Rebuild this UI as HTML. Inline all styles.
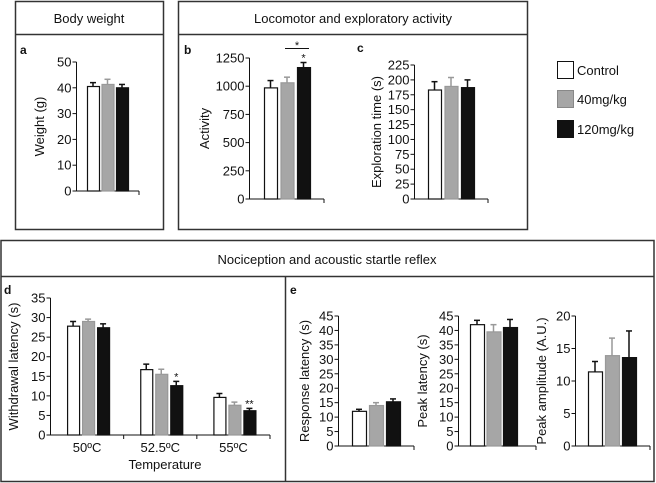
<!DOCTYPE html>
<html><head><meta charset="utf-8"><style>
html,body{margin:0;padding:0;background:#fff;}
svg{display:block;font-family:"Liberation Sans",Arial,sans-serif;}
</style></head><body>
<svg id="fig" width="656" height="483" viewBox="0 0 656 483" xmlns="http://www.w3.org/2000/svg">
<g fill="none" stroke="#333" stroke-width="1.5">
<rect x="15.5" y="1.5" width="148" height="228"/>
<line x1="15.5" y1="34.5" x2="163.5" y2="34.5"/>
<rect x="178.5" y="1.5" width="349" height="228"/>
<line x1="178.5" y1="34.5" x2="527.5" y2="34.5"/>
<rect x="1" y="240.5" width="653" height="241"/>
<line x1="1" y1="276.5" x2="654" y2="276.5"/>
<line x1="285.5" y1="276.5" x2="285.5" y2="481.5"/>
</g>
<g font-size="13" fill="#111">
<text x="89" y="23" text-anchor="middle">Body weight</text>
<text x="353" y="23" text-anchor="middle">Locomotor and exploratory activity</text>
<text x="327" y="264" text-anchor="middle">Nociception and acoustic startle reflex</text>
</g>
<g font-size="12" font-weight="bold" fill="#111">
<text x="20" y="54">a</text>
<text x="184" y="54">b</text>
<text x="357" y="52">c</text>
<text x="4" y="294">d</text>
<text x="290" y="294">e</text>
</g>
<g font-size="13" fill="#111">
<rect x="557.5" y="61.5" width="16" height="17" fill="#fff" stroke="#111"/>
<text x="577" y="75">Control</text>
<rect x="557.5" y="90.5" width="16" height="17" fill="#a6a6a6" stroke="#888"/>
<text x="577" y="104">40mg/kg</text>
<rect x="557.5" y="120.5" width="16" height="17" fill="#111" stroke="#111"/>
<text x="577" y="134">120mg/kg</text>
</g>
<g id="charts"></g>
</svg>
<script>
// Data
const groups = ["Control", "40mg/kg", "120mg/kg"];
const weightValues = [40.5, 41.3, 40.0];
const weightErrors = [1.5, 2.0, 1.3];
const weightTicks = [0, 10, 20, 30, 40, 50];
const activityValues = [985, 1030, 1165];
const activityErrors = [65, 50, 45];
const activityTicks = [0, 250, 500, 750, 1000, 1250];
const explorationValues = [183, 189, 187];
const explorationErrors = [14, 15, 13];
const explorationTicks = [0, 25, 50, 75, 100, 125, 150, 175, 200, 225];
const temperatureCategories = ["50ºC", "52.5ºC", "55ºC"];
const withdrawalControl = [27.8, 16.7, 9.6];
const withdrawal40 = [29.0, 15.5, 7.6];
const withdrawal120 = [27.4, 12.6, 6.2];
const withdrawalErrControl = [1.2, 1.4, 1.0];
const withdrawalErr40 = [0.6, 1.3, 0.8];
const withdrawalErr120 = [1.0, 1.1, 0.6];
const withdrawalStars = ["", "*", "**"];
const withdrawalTicks = [0, 5, 10, 15, 20, 25, 30, 35];
const responseValues = [12.0, 14.0, 15.3];
const responseErrors = [0.7, 1.0, 1.0];
const peakLatValues = [42.0, 39.5, 41.0];
const peakLatErrors = [1.5, 2.5, 2.8];
const latencyTicks = [0, 5, 10, 15, 20, 25, 30, 35, 40, 45];
const amplitudeValues = [11.4, 13.9, 13.6];
const amplitudeErrors = [1.6, 2.7, 4.1];
const amplitudeTicks = [0, 5, 10, 15, 20];

const NS = "http://www.w3.org/2000/svg";
const root = document.getElementById("charts");
const fills = ["#fff", "#a6a6a6", "#111"];
const strokes = ["#111", "#999", "#111"];
function mk(tag, attrs, parent) {
  const e = document.createElementNS(NS, tag);
  for (const k in attrs) e.setAttribute(k, attrs[k]);
  parent.appendChild(e);
  return e;
}
function axes(g, ax, ticks, yLabel, labelX) {
  const ys = v => ax.y0 - (v - ticks[0]) / (ticks[ticks.length - 1] - ticks[0]) * (ax.y0 - ax.y1);
  const yl = mk("line", {x1: ax.x, y1: ax.y0, x2: ax.x, y2: ax.y1, stroke: "#111"}, g);
  
  
  const xl = mk("line", {x1: ax.x, y1: ax.y0, x2: ax.xEnd, y2: ax.y0, stroke: "#111"}, g);
  
  
  ticks.forEach(t => {
    const y = ys(t);
    mk("line", {x1: ax.x - 4, y1: y, x2: ax.x, y2: y, stroke: "#111"}, g);
    const tx = mk("text", {x: ax.x - 5, y: y + 4.5, "text-anchor": "end", "font-size": 13, fill: "#111"}, g);
    
    
    tx.textContent = t;
  });
  const yt = mk("text", {x: labelX, y: (ax.y0 + ax.y1) / 2, "text-anchor": "middle", "font-size": 13, fill: "#111",
    transform: "rotate(-90 " + labelX + " " + ((ax.y0 + ax.y1) / 2) + ")"}, g);
  
  
  yt.textContent = yLabel;
  return ys;
}
function bar(g, x, w, v, err, i, ys, name) {
  const top = ys(v), y0 = ys(0);
  const et = ys(v + err);
  const el = mk("line", {x1: x + w / 2, y1: top, x2: x + w / 2, y2: et, stroke: strokes[i], "stroke-width": 1.5}, g);
  
  
  mk("line", {x1: x + w / 2 - 3, y1: et, x2: x + w / 2 + 3, y2: et, stroke: strokes[i], "stroke-width": 1.5}, g);
  const r = mk("rect", {x: x + 0.5, y: top, width: w, height: y0 - top, fill: fills[i], stroke: strokes[i], "stroke-width": 1.2}, g);
  
  
}
function simpleChart(name, ax, ticks, vals, errs, yLabel, labelX, x0, step, w) {
  const g = mk("g", {}, root);
  
  
  const ys = axes(g, ax, ticks, yLabel, labelX);
  mk("line", {x1: ax.xEnd, y1: ax.y0, x2: ax.xEnd, y2: ax.y0 + 4, stroke: "#111"}, g);
  vals.forEach((v, i) => bar(g, x0 + i * step, w, v, errs[i], i, ys, "bar-" + groups[i].replace("/", "-").toLowerCase()));
  return {g, ys};
}
simpleChart("weight-chart", {x: 76.5, y0: 191, y1: 62, xEnd: 139}, weightTicks, weightValues, weightErrors, "Weight (g)", 44, 87, 14.5, 12);
const b = simpleChart("activity-chart", {x: 249.5, y0: 199, y1: 58, xEnd: 324}, activityTicks, activityValues, activityErrors, "Activity", 209, 264, 16.5, 13);
mk("line", {x1: 285, y1: 48.5, x2: 309, y2: 48.5, stroke: "#111"}, b.g);
let s = mk("text", {x: 297, y: 49, "text-anchor": "middle", "font-size": 11, fill: "#111"}, b.g);


s.textContent = "*";
s = mk("text", {x: 303.5, y: b.ys(activityValues[2] + activityErrors[2]) - 1, "text-anchor": "middle", "font-size": 11, fill: "#111"}, b.g);


s.textContent = "*";
simpleChart("exploration-chart", {x: 414.5, y0: 199, y1: 65, xEnd: 488}, explorationTicks, explorationValues, explorationErrors, "Exploration time (s)", 381, 428, 16.5, 13);
simpleChart("response-latency-chart", {x: 338.5, y0: 446, y1: 316, xEnd: 414}, latencyTicks, responseValues, responseErrors, "Response latency (s)", 309, 352, 17, 14);
simpleChart("peak-latency-chart", {x: 458.5, y0: 446, y1: 316, xEnd: 536}, latencyTicks, peakLatValues, peakLatErrors, "Peak latency (s)", 427, 470, 16.5, 14);
simpleChart("peak-amplitude-chart", {x: 575.5, y0: 446, y1: 316, xEnd: 650}, amplitudeTicks, amplitudeValues, amplitudeErrors, "Peak amplitude (A.U.)", 546, 588, 17, 14);

// Chart d
(function () {
  const g = mk("g", {}, root);
  
  
  const ax = {x: 50.5, y0: 435, y1: 298, xEnd: 270};
  const ys = axes(g, ax, withdrawalTicks, "Withdrawal latency (s)", 18);
  const cw = (ax.xEnd - ax.x) / temperatureCategories.length;
  const series = [withdrawalControl, withdrawal40, withdrawal120];
  const errs = [withdrawalErrControl, withdrawalErr40, withdrawalErr120];
  temperatureCategories.forEach((c, k) => {
    mk("line", {x1: ax.x + cw * (k + 1), y1: ax.y0, x2: ax.x + cw * (k + 1), y2: ax.y0 + 4, stroke: "#111"}, g);
    const cx = ax.x + cw * (k + 0.5);
    series.forEach((sv, i) => bar(g, cx - 20 + i * 15, 12, sv[k], errs[i][k], i, ys, "bar-" + c));
    const t = mk("text", {x: cx, y: 452, "text-anchor": "middle", "font-size": 13, fill: "#111"}, g);
    
    
    t.textContent = c;
    if (withdrawalStars[k]) {
      const st = mk("text", {x: cx + 16, y: ys(series[2][k] + errs[2][k]) - 1, "text-anchor": "middle", "font-size": 11, fill: "#111"}, g);
      
      
      st.textContent = withdrawalStars[k];
    }
  });
  const xt = mk("text", {x: 165, y: 469, "text-anchor": "middle", "font-size": 13, fill: "#111"}, g);
  
  
  xt.textContent = "Temperature";
})();
</script>
</body></html>
